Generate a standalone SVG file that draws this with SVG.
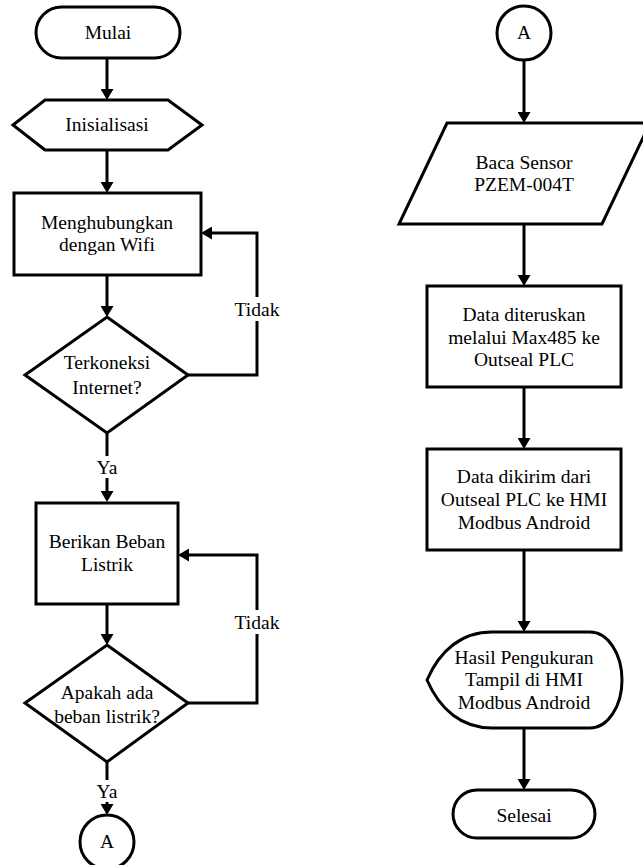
<svg xmlns="http://www.w3.org/2000/svg" width="643" height="865" viewBox="0 0 643 865">
<defs>
<style>
.s{fill:#fff;stroke:#000;stroke-width:3;stroke-linejoin:miter}
.c{fill:none;stroke:#000;stroke-width:3}
.bg{fill:#fff;stroke:none}
text{font-family:"Liberation Serif","Times New Roman",serif;font-size:19.5px;fill:#000;text-anchor:middle}
</style>
<marker id="ah" markerUnits="userSpaceOnUse" markerWidth="12" markerHeight="13" refX="8" refY="6.5" orient="auto">
<path d="M0,0 L11,6.5 L0,13 Z" fill="#000"/>
</marker>
</defs>
<rect width="643" height="865" fill="#fff"/>

<g id="connectors">
<line class="c" x1="107" y1="58" x2="107" y2="97" marker-end="url(#ah)"/>
<line class="c" x1="107" y1="150" x2="107" y2="190" marker-end="url(#ah)"/>
<line class="c" x1="107" y1="275" x2="107" y2="314" marker-end="url(#ah)"/>
<path class="c" d="M188,375 H257 V233 H204" marker-end="url(#ah)"/>
<line class="c" x1="107" y1="433" x2="107" y2="499" marker-end="url(#ah)"/>
<line class="c" x1="107" y1="604" x2="107" y2="642" marker-end="url(#ah)"/>
<path class="c" d="M188,703 H257 V555 H181" marker-end="url(#ah)"/>
<line class="c" x1="107" y1="762" x2="107" y2="812" marker-end="url(#ah)"/>
<line class="c" x1="524" y1="60" x2="524" y2="120" marker-end="url(#ah)"/>
<line class="c" x1="524" y1="224" x2="524" y2="283" marker-end="url(#ah)"/>
<line class="c" x1="524" y1="387" x2="524" y2="446" marker-end="url(#ah)"/>
<line class="c" x1="524" y1="550" x2="524" y2="629" marker-end="url(#ah)"/>
<line class="c" x1="524" y1="728" x2="524" y2="787" marker-end="url(#ah)"/>
<rect class="bg" x="231" y="297" width="52" height="24"/>
<text x="257" y="316">Tidak</text>
<rect class="bg" x="231" y="610" width="52" height="24"/>
<text x="257" y="629">Tidak</text>
<rect class="bg" x="93" y="456" width="28" height="22"/>
<text x="107" y="474">Ya</text>
<rect class="bg" x="93" y="780" width="28" height="22"/>
<text x="107" y="798">Ya</text>
</g>

<g id="mulai">
<rect class="s" x="36" y="7" width="144" height="51" rx="25.5"/>
<text x="108" y="39">Mulai</text>
</g>

<g id="inisialisasi">
<polygon class="s" points="13,125 45,100 168,100 202,125 168,150 45,150"/>
<text x="107" y="131">Inisialisasi</text>
</g>

<g id="wifi">
<rect class="s" x="14" y="193" width="187" height="82"/>
<text x="107" y="229">Menghubungkan</text>
<text x="107" y="251">dengan Wifi</text>
</g>

<g id="cek-internet">
<polygon class="s" points="107,317 188,375 107,433 25,375"/>
<text x="107" y="369">Terkoneksi</text>
<text x="107" y="394">Internet?</text>
</g>

<g id="beban">
<rect class="s" x="36" y="503" width="142" height="101"/>
<text x="107" y="548">Berikan Beban</text>
<text x="107" y="571">Listrik</text>
</g>

<g id="cek-beban">
<polygon class="s" points="107,645 188,703 107,762 25,703"/>
<text x="107" y="699">Apakah ada</text>
<text x="107" y="723">beban listrik?</text>
</g>

<g id="konektor-a-kiri">
<circle class="s" cx="107" cy="842" r="27"/>
<text x="107" y="848">A</text>
</g>

<g id="konektor-a-kanan">
<circle class="s" cx="524" cy="33" r="27"/>
<text x="524" y="39">A</text>
</g>

<g id="baca-sensor">
<polygon class="s" points="447,123 650,123 602,224 399,224"/>
<text x="524" y="169">Baca Sensor</text>
<text x="524" y="191">PZEM-004T</text>
</g>

<g id="max485">
<rect class="s" x="427" y="286" width="194" height="101"/>
<text x="524" y="321">Data diteruskan</text>
<text x="524" y="344">melalui Max485 ke</text>
<text x="524" y="366">Outseal PLC</text>
</g>

<g id="kirim-hmi">
<rect class="s" x="427" y="449" width="194" height="101"/>
<text x="524" y="483">Data dikirim dari</text>
<text x="524" y="506">Outseal PLC ke HMI</text>
<text x="524" y="529">Modbus Android</text>
</g>

<g id="tampil">
<path class="s" d="M427,680 C440,650 462,632 492,632 L590,632 A32,48 0 0 1 590,728 L492,728 C462,728 440,710 427,680 Z"/>
<text x="524" y="664">Hasil Pengukuran</text>
<text x="524" y="686">Tampil di HMI</text>
<text x="524" y="709">Modbus Android</text>
</g>

<g id="selesai">
<rect class="s" x="453" y="790" width="142" height="48" rx="24"/>
<text x="524" y="822">Selesai</text>
</g>
</svg>
